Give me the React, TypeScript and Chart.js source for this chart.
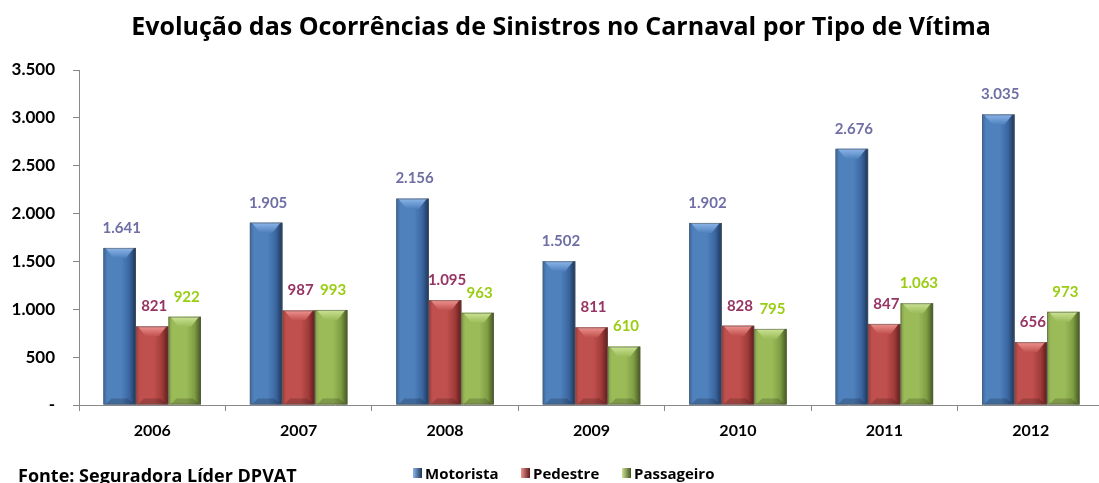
import React, { useEffect, useRef } from "react";
import { Chart, registerables } from "chart.js";

Chart.register(...registerables);

const title = "Evolução das Ocorrências de Sinistros no Carnaval por Tipo de Vítima";
const source = "Fonte: Seguradora Líder DPVAT";
const categories = ["2006", "2007", "2008", "2009", "2010", "2011", "2012"];
const seriesNames = ["Motorista", "Pedestre", "Passageiro"];
const motorista = [1641, 1905, 2156, 1502, 1902, 2676, 3035];
const pedestre = [821, 987, 1095, 811, 828, 847, 656];
const passageiro = [922, 993, 963, 610, 795, 1063, 973];
const yMin = 0;
const yMax = 3500;
const yStep = 500;

const baseColors = ["#4F81BD", "#C0504D", "#9BBB59"];
const edgeColors = ["#3A66A0", "#A03C3A", "#7F9E44"];
const lightColors = ["#8DB6EA", "#EE9491", "#CBE394"];
const darkColors = ["#1D3557", "#5E1B1A", "#445720"];
const labelColors = ["#6F6FA6", "#963564", "#9ACD12"];

const FONT = "Lato, 'Liberation Sans', sans-serif";
const FONT2 = "'Open Sans', 'Liberation Sans', sans-serif";

const fmt = (n: number) =>
  n === 0 ? "-" : String(n).replace(/\B(?=(\d{3})+(?!\d))/g, ".");

const cylinderPlugin = {
  id: "cylinder",
  afterDatasetsDraw(chart: any) {
    const ctx = chart.ctx;
    chart.data.datasets.forEach((ds: any, di: number) => {
      const meta = chart.getDatasetMeta(di);
      meta.data.forEach((el: any, i: number) => {
        const w = el.width;
        const x0 = el.x - w / 2;
        const x1 = el.x + w / 2;
        const top = el.y;
        const bot = el.base;
        ctx.save();
        const g = ctx.createLinearGradient(x0, 0, x1, 0);
        g.addColorStop(0, edgeColors[di]);
        g.addColorStop(0.12, baseColors[di]);
        g.addColorStop(0.55, baseColors[di]);
        g.addColorStop(0.8, edgeColors[di]);
        g.addColorStop(1, darkColors[di]);
        ctx.fillStyle = g;
        ctx.fillRect(x0, top, w, bot - top);
        // top bevel
        const bev = Math.min(10, (bot - top) / 3);
        const tg = ctx.createLinearGradient(0, top, 0, top + bev);
        tg.addColorStop(0, lightColors[di]);
        tg.addColorStop(1, baseColors[di]);
        ctx.fillStyle = tg;
        ctx.beginPath();
        ctx.moveTo(x0 + 2, top);
        ctx.lineTo(x1 - 2, top);
        ctx.lineTo(x1 - 10, top + bev);
        ctx.lineTo(x0 + 10, top + bev);
        ctx.closePath();
        ctx.fill();
        // bottom bevel
        const bb = Math.min(6, (bot - top) / 4);
        ctx.fillStyle = "rgba(0,0,0,0.18)";
        ctx.beginPath();
        ctx.moveTo(x0 + 2, bot);
        ctx.lineTo(x1 - 2, bot);
        ctx.lineTo(x1 - 8, bot - bb);
        ctx.lineTo(x0 + 8, bot - bb);
        ctx.closePath();
        ctx.fill();
        ctx.strokeStyle = "rgba(90,90,90,0.55)";
        ctx.lineWidth = 1;
        ctx.strokeRect(x0 + 0.5, top + 0.5, w - 1, bot - top - 1);
        // label
        ctx.fillStyle = labelColors[di];
        ctx.font = `bold 15px ${FONT}`;
        ctx.textAlign = "center";
        ctx.textBaseline = "middle";
        ctx.fillText(fmt(ds.data[i]), el.x + 2, top - 20);
        ctx.restore();
      });
    });
  },
  afterDraw(chart: any) {
    const ctx = chart.ctx;
    ctx.save();
    ctx.fillStyle = "#000";
    ctx.font = `bold 25px ${FONT2}`;
    ctx.textAlign = "center";
    ctx.textBaseline = "alphabetic";
    ctx.fillText(title, 561, 35);
    ctx.font = `bold 18px ${FONT2}`;
    ctx.textAlign = "left";
    ctx.fillText(source, 18, 482);
    // legend
    const starts = [413, 521, 622];
    ctx.font = `bold 15px ${FONT2}`;
    seriesNames.forEach((name, di) => {
      const sx = starts[di];
      const g = ctx.createLinearGradient(sx, 0, sx + 9, 0);
      g.addColorStop(0, lightColors[di]);
      g.addColorStop(1, darkColors[di]);
      ctx.fillStyle = g;
      ctx.fillRect(sx, 468, 9, 10);
      ctx.fillStyle = "#000";
      ctx.fillText(name, sx + 12, 479);
    });
    ctx.restore();
  },
};

export default function App() {
  const ref = useRef<HTMLCanvasElement>(null);
  useEffect(() => {
    if (!ref.current) return;
    const chart = new Chart(ref.current, {
      type: "bar",
      data: {
        labels: categories,
        datasets: [
          { label: seriesNames[0], data: motorista, backgroundColor: baseColors[0] },
          { label: seriesNames[1], data: pedestre, backgroundColor: baseColors[1] },
          { label: seriesNames[2], data: passageiro, backgroundColor: baseColors[2] },
        ],
      },
      options: {
        animation: false,
        responsive: false,
        devicePixelRatio: 1,
        layout: { padding: { top: 70, left: 0, right: 6, bottom: 0 } },
        datasets: { bar: { categoryPercentage: 0.666, barPercentage: 1 } },
        plugins: { legend: { display: false }, title: { display: false }, tooltip: { enabled: false } },
        scales: {
          x: {
            afterFit: (s: any) => { s.height = 78; },
            grid: { offset: true, drawOnChartArea: false, drawTicks: true, tickLength: 6, color: "#888" },
            border: { display: true, color: "#888" },
            ticks: { color: "#000", font: { family: FONT, size: 16, weight: "bold" }, padding: 10 },
          },
          y: {
            min: yMin,
            max: yMax,
            afterFit: (s: any) => { s.width = 79; },
            grid: { drawOnChartArea: false, drawTicks: true, tickLength: 6, color: "#888" },
            border: { display: true, color: "#888" },
            ticks: {
              stepSize: yStep,
              color: "#000",
              padding: 18,
              font: { family: FONT, size: 17, weight: "bold" },
              callback: (v: any) => fmt(Number(v)),
            },
          },
        },
      },
      plugins: [cylinderPlugin],
    });
    return () => chart.destroy();
  }, []);
  return (
    <div style={{ position: "fixed", left: 0, top: 0, width: 1099, height: 483, overflow: "hidden", background: "#fff" }}>
      <canvas ref={ref} width={1110} height={483} style={{ display: "block" }} />
    </div>
  );
}
